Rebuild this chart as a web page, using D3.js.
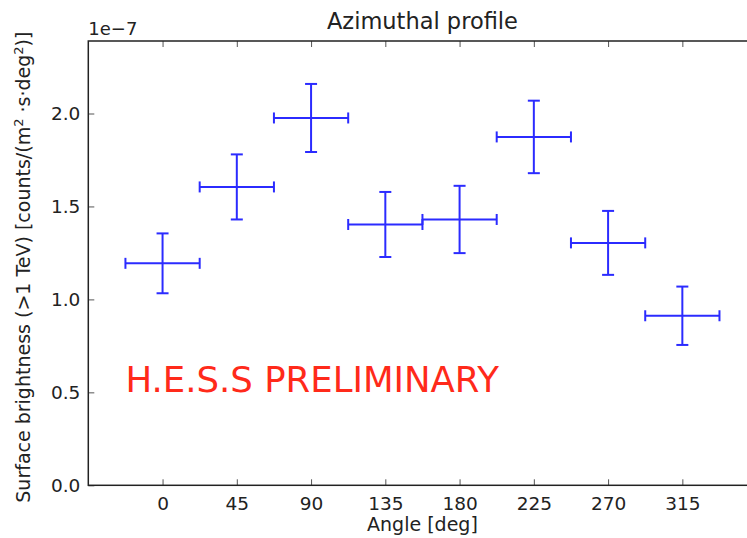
<!DOCTYPE html>
<html><head><meta charset="utf-8">
<script src="https://cdn.jsdelivr.net/npm/d3@7"></script>
<style>body{margin:0;background:#fff}svg{display:block;font-family:"DejaVu Sans",sans-serif}</style>
</head><body><svg id="c" width="747" height="538"></svg>
<script>
const angles = [0, 45, 90, 135, 180, 225, 270, 315];
const brightness = [1.194, 1.605, 1.976, 1.403, 1.430, 1.874, 1.304, 0.912];
const errors = [0.161, 0.175, 0.183, 0.175, 0.181, 0.195, 0.172, 0.157];
const binHalfWidth = 22.5;
const xTicks = [0, 45, 90, 135, 180, 225, 270, 315];
const yTicks = [0.0, 0.5, 1.0, 1.5, 2.0];

const svg = d3.select("#c");
const L = 88.3, R = 756.6, T = 41, B = 485.3;
const x = d3.scaleLinear().domain([-45, 360]).range([L, R]);
const y = d3.scaleLinear().domain([0, 2.39]).range([B, T]);

// inward ticks
const xAxis = d3.axisBottom(x).tickValues(xTicks).tickSize(-6).tickPadding(12).tickFormat(d3.format("d"));
const yAxis = d3.axisLeft(y).tickValues(yTicks).tickSize(-6).tickPadding(8).tickFormat(d3.format(".1f"));
const gx = svg.append("g").attr("transform", `translate(0,${B})`).call(xAxis);
const gy = svg.append("g").attr("transform", `translate(${L},0)`).call(yAxis);
const gxt = svg.append("g").attr("transform", `translate(0,${T})`).call(d3.axisTop(x).tickValues(xTicks).tickSize(-6).tickFormat(""));
const gyr = svg.append("g").attr("transform", `translate(${R},0)`).call(d3.axisRight(y).tickValues(yTicks).tickSize(-6).tickFormat(""));
[gx, gy, gxt, gyr].forEach(g => {
  g.select(".domain").remove();
  g.selectAll(".tick line").attr("stroke", "#555").attr("stroke-width", 1);
  g.selectAll(".tick text").attr("fill", "#222").attr("font-size", 18.5).attr("font-family", "DejaVu Sans");
});
gx.selectAll(".tick text").attr("dy", "0.71em").attr("y", 12);
svg.append("rect").attr("x", L).attr("y", T).attr("width", R - L).attr("height", B - T)
  .attr("fill", "none").attr("stroke", "#222").attr("stroke-width", 1.5);

// error bars
const data = angles.map((a, i) => ({a, v: brightness[i], e: errors[i]}));
const g = svg.append("g").attr("stroke", "#2b2bff").attr("stroke-width", 2).attr("fill", "none");
data.forEach(d => {
  const cx = x(d.a), cy = y(d.v);
  const x0 = x(d.a - binHalfWidth), x1 = x(d.a + binHalfWidth);
  const y0 = y(d.v - d.e), y1 = y(d.v + d.e);
  g.append("line").attr("x1", x0).attr("x2", x1).attr("y1", cy).attr("y2", cy);
  g.append("line").attr("x1", cx).attr("x2", cx).attr("y1", y0).attr("y2", y1);
  g.append("line").attr("x1", x0).attr("x2", x0).attr("y1", cy - 5.5).attr("y2", cy + 5.5);
  g.append("line").attr("x1", x1).attr("x2", x1).attr("y1", cy - 5.5).attr("y2", cy + 5.5);
  g.append("line").attr("x1", cx - 6).attr("x2", cx + 6).attr("y1", y0).attr("y2", y0);
  g.append("line").attr("x1", cx - 6).attr("x2", cx + 6).attr("y1", y1).attr("y2", y1);
});

// texts
svg.append("text").attr("x", (L + R) / 2).attr("y", 29).attr("text-anchor", "middle")
  .attr("font-size", 22.5).attr("fill", "#222").text("Azimuthal profile");
svg.append("text").attr("x", L).attr("y", 35).attr("font-size", 18).attr("fill", "#222").text("1e\u22127");
svg.append("text").attr("x", (L + R) / 2).attr("y", 531).attr("text-anchor", "middle")
  .attr("font-size", 19).attr("fill", "#222").text("Angle [deg]");
const yl = svg.append("text").attr("transform", `translate(30,${(T + B) / 2 + 4}) rotate(-90)`)
  .attr("text-anchor", "middle").attr("font-size", 19).attr("fill", "#222");
yl.append("tspan").text("Surface brightness (>1 TeV) [counts/(m");
yl.append("tspan").attr("baseline-shift", "super").attr("font-size", 13).text("2");
yl.append("tspan").text(" \u00b7s\u00b7deg");
yl.append("tspan").attr("baseline-shift", "super").attr("font-size", 13).text("2");
yl.append("tspan").text(")]");
svg.append("text").attr("x", x(-22.5)).attr("y", y(0.5)).attr("font-size", 35.5)
  .attr("fill", "#ff2a1a").text("H.E.S.S PRELIMINARY");
</script></body></html>
